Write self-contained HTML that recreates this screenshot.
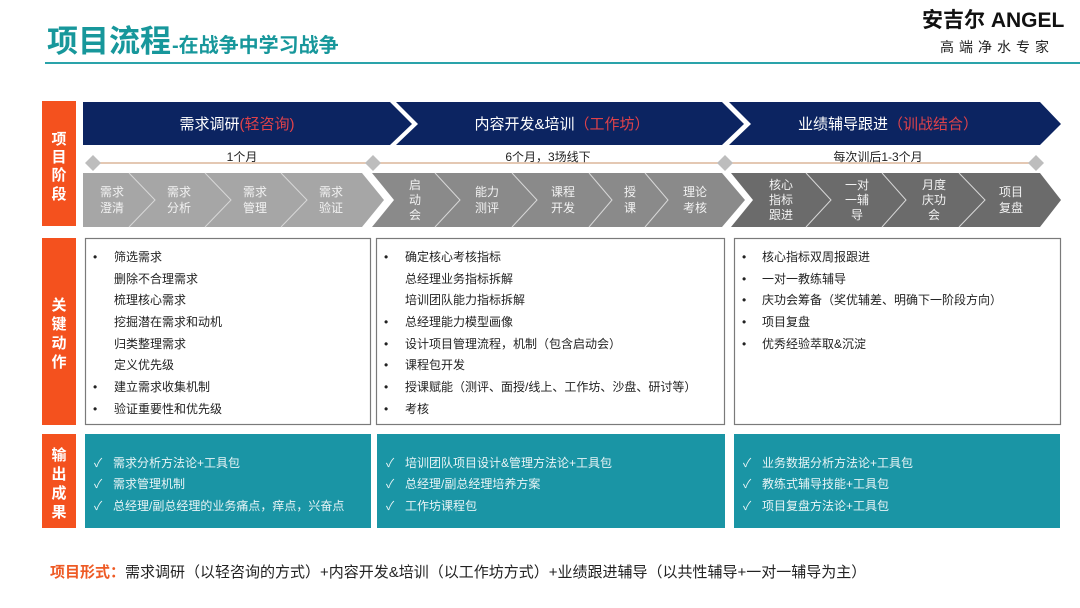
<!DOCTYPE html>
<html><head><meta charset="utf-8"><style>
html,body{margin:0;padding:0;background:#fff;}
svg{display:block;font-family:"Liberation Sans","Noto Sans CJK SC",sans-serif;}
</style></head><body>
<svg width="1080" height="608" viewBox="0 0 1080 608" xmlns="http://www.w3.org/2000/svg">
<rect width="1080" height="608" fill="#fff"/>
<text x="47" y="52" font-size="31" font-weight="bold" fill="#17979b">项目流程</text>
<text x="172" y="52" font-size="20" font-weight="bold" fill="#17979b">-在战争中学习战争</text>
<rect x="45" y="62" width="1035" height="2" fill="#2aa3aa"/>
<text x="922" y="27" font-size="21" font-weight="bold" fill="#111">安吉尔 ANGEL</text>
<text x="940" y="52" font-size="14" fill="#222" letter-spacing="5">高端净水专家</text>

<rect x="42" y="101" width="34" height="125" fill="#f4511e"/>
<rect x="42" y="238" width="34" height="187" fill="#f4511e"/>
<rect x="42" y="434" width="34" height="94" fill="#f4511e"/>
<g font-size="15" font-weight="bold" fill="#fff" text-anchor="middle">
<text x="59" y="144">项</text><text x="59" y="162">目</text><text x="59" y="180">阶</text><text x="59" y="199">段</text>
<text x="59" y="310">关</text><text x="59" y="329">键</text><text x="59" y="348">动</text><text x="59" y="367">作</text>
<text x="59" y="460">输</text><text x="59" y="479">出</text><text x="59" y="498">成</text><text x="59" y="517">果</text>
</g>

<g fill="#0c2461">
<polygon points="83,102 390,102 412,124 390,145 83,145"/>
<polygon points="396,102 722,102 744,124 722,145 396,145 418,124"/>
<polygon points="729,102 1040,102 1061,124 1040,145 729,145 751,124"/>
</g>
<g font-size="15" text-anchor="middle">
<text x="237" y="129" fill="#fff">需求调研<tspan fill="#e0424a">(轻咨询)</tspan></text>
<text x="562" y="129" fill="#fff">内容开发&amp;培训<tspan fill="#e0424a">（工作坊）</tspan></text>
<text x="888" y="129" fill="#fff">业绩辅导跟进<tspan fill="#e0424a">（训战结合）</tspan></text>
</g>

<line x1="93" y1="163" x2="1036" y2="163" stroke="#dcb59a" stroke-width="1.5"/>
<g fill="#bdbdbd">
<polygon points="93,155 101,163 93,171 85,163"/>
<polygon points="373,155 381,163 373,171 365,163"/>
<polygon points="725,155 733,163 725,171 717,163"/>
<polygon points="1036,155 1044,163 1036,171 1028,163"/>
</g>
<g font-size="12" fill="#222" text-anchor="middle">
<text x="242" y="161">1个月</text>
<text x="548" y="161">6个月，3场线下</text>
<text x="878" y="161">每次训后1-3个月</text>
</g>

<polygon points="83,173 362,173 384,200 362,227 83,227" fill="#a6a6a6"/>
<polygon points="372,173 722,173 745,200 722,227 372,227 394,200" fill="#8a8a8a"/>
<polygon points="731,173 1040,173 1061,200 1040,227 731,227 753,200" fill="#6b6b6b"/>
<g stroke="#d8d8d8" stroke-width="1" fill="none">
<polyline points="129,173 155,200 129,227"/>
<polyline points="205,173 231,200 205,227"/>
<polyline points="281,173 307,200 281,227"/>
<polyline points="435,173 460,200 435,227"/>
<polyline points="512,173 537,200 512,227"/>
<polyline points="589,173 612,200 589,227"/>
<polyline points="645,173 668,200 645,227"/>
<polyline points="806,173 831,200 806,227"/>
<polyline points="882,173 906,200 882,227"/>
<polyline points="959,173 985,200 959,227"/>
</g>
<g font-size="12" fill="#f2f2f2" text-anchor="middle">
<text x="112" y="196">需求</text><text x="112" y="212">澄清</text>
<text x="179" y="196">需求</text><text x="179" y="212">分析</text>
<text x="255" y="196">需求</text><text x="255" y="212">管理</text>
<text x="331" y="196">需求</text><text x="331" y="212">验证</text>
<text x="415" y="189">启</text><text x="415" y="204">动</text><text x="415" y="219">会</text>
<text x="487" y="196">能力</text><text x="487" y="212">测评</text>
<text x="563" y="196">课程</text><text x="563" y="212">开发</text>
<text x="630" y="196">授</text><text x="630" y="212">课</text>
<text x="695" y="196">理论</text><text x="695" y="212">考核</text>
<text x="781" y="189">核心</text><text x="781" y="204">指标</text><text x="781" y="219">跟进</text>
<text x="857" y="189">一对</text><text x="857" y="204">一辅</text><text x="857" y="219">导</text>
<text x="934" y="189">月度</text><text x="934" y="204">庆功</text><text x="934" y="219">会</text>
<text x="1011" y="196">项目</text><text x="1011" y="212">复盘</text>
</g>

<g fill="#fff" stroke="#7a7a7a" stroke-width="1.2">
<rect x="85.5" y="238.5" width="285" height="186"/>
<rect x="376.5" y="238.5" width="348" height="186"/>
<rect x="734.5" y="238.5" width="326" height="186"/>
</g>
<g font-size="12" fill="#222">
<text x="93" y="261">•</text><text x="114" y="261">筛选需求</text>
<text x="114" y="283">删除不合理需求</text>
<text x="114" y="304">梳理核心需求</text>
<text x="114" y="326">挖掘潜在需求和动机</text>
<text x="114" y="348">归类整理需求</text>
<text x="114" y="369">定义优先级</text>
<text x="93" y="391">•</text><text x="114" y="391">建立需求收集机制</text>
<text x="93" y="413">•</text><text x="114" y="413">验证重要性和优先级</text>

<text x="384" y="261">•</text><text x="405" y="261">确定核心考核指标</text>
<text x="405" y="283">总经理业务指标拆解</text>
<text x="405" y="304">培训团队能力指标拆解</text>
<text x="384" y="326">•</text><text x="405" y="326">总经理能力模型画像</text>
<text x="384" y="348">•</text><text x="405" y="348">设计项目管理流程，机制（包含启动会）</text>
<text x="384" y="369">•</text><text x="405" y="369">课程包开发</text>
<text x="384" y="391">•</text><text x="405" y="391">授课赋能（测评、面授/线上、工作坊、沙盘、研讨等）</text>
<text x="384" y="413">•</text><text x="405" y="413">考核</text>

<text x="742" y="261">•</text><text x="762" y="261">核心指标双周报跟进</text>
<text x="742" y="283">•</text><text x="762" y="283">一对一教练辅导</text>
<text x="742" y="304">•</text><text x="762" y="304">庆功会筹备（奖优辅差、明确下一阶段方向）</text>
<text x="742" y="326">•</text><text x="762" y="326">项目复盘</text>
<text x="742" y="348">•</text><text x="762" y="348">优秀经验萃取&amp;沉淀</text>
</g>

<g fill="#1a95a5">
<rect x="85" y="434" width="286" height="94"/>
<rect x="377" y="434" width="348" height="94"/>
<rect x="734" y="434" width="326" height="94"/>
</g>
<g font-size="12" fill="#e8f4f6">
<text x="94" y="467">✓</text><text x="113" y="467">需求分析方法论+工具包</text>
<text x="94" y="488">✓</text><text x="113" y="488">需求管理机制</text>
<text x="94" y="510">✓</text><text x="113" y="510">总经理/副总经理的业务痛点，痒点，兴奋点</text>
<text x="386" y="467">✓</text><text x="405" y="467">培训团队项目设计&amp;管理方法论+工具包</text>
<text x="386" y="488">✓</text><text x="405" y="488">总经理/副总经理培养方案</text>
<text x="386" y="510">✓</text><text x="405" y="510">工作坊课程包</text>
<text x="743" y="467">✓</text><text x="762" y="467">业务数据分析方法论+工具包</text>
<text x="743" y="488">✓</text><text x="762" y="488">教练式辅导技能+工具包</text>
<text x="743" y="510">✓</text><text x="762" y="510">项目复盘方法论+工具包</text>
</g>

<text x="50" y="577" font-size="15" fill="#222"><tspan fill="#ee5a24" font-weight="bold">项目形式：</tspan>需求调研（以轻咨询的方式）+内容开发&amp;培训（以工作坊方式）+业绩跟进辅导（以共性辅导+一对一辅导为主）</text>
</svg>
</body></html>
